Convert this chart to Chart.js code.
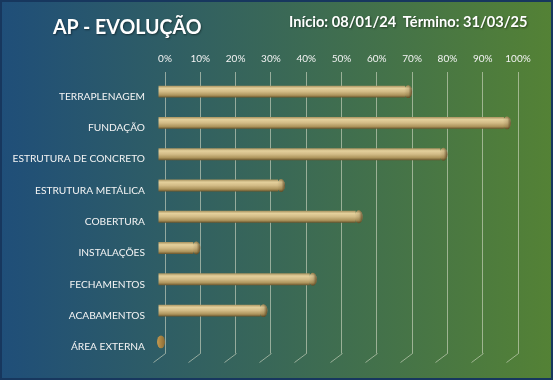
<!DOCTYPE html>
<html><head><meta charset="utf-8">
<script src="https://cdn.jsdelivr.net/npm/chart.js@4.4.1/dist/chart.umd.min.js"></script>
<style>
html,body{margin:0;padding:0;background:#ffffff;}
#wrap{position:relative;width:553px;height:380px;overflow:hidden;background:linear-gradient(90deg,#1f4e79 0%,#548235 100%);}
#c{position:absolute;left:0;top:0;}
#frame{position:absolute;left:0;top:0;width:553px;height:380px;box-sizing:border-box;border:2px solid #17375e;pointer-events:none;}
.t{position:absolute;white-space:pre;font-family:Lato,sans-serif;font-weight:700;color:#ffffff;line-height:1;transform-origin:0 0;text-shadow:1px 1px 2px rgba(0,0,0,0.45);}
</style></head><body>
<div id="wrap">
<canvas id="c" width="553" height="380"></canvas>
<div id="title" class="t"></div>
<div id="sub" class="t"></div>
<div id="frame"></div>
</div>
<script>
const titleText = 'AP - EVOLUÇÃO';
const periodText = 'Início: 08/01/24  Término: 31/03/25';
const categories = ['TERRAPLENAGEM','FUNDAÇÃO','ESTRUTURA DE CONCRETO','ESTRUTURA METÁLICA','COBERTURA','INSTALAÇÕES','FECHAMENTOS','ACABAMENTOS','ÁREA EXTERNA'];
const progress = [70, 98, 80, 34, 56, 10, 43, 29, 0];
const tickLabels = ['0%','10%','20%','30%','40%','50%','60%','70%','80%','90%','100%'];

const FONT = 'Lato, "Open Sans", sans-serif';
const GRID = 'rgba(215,220,200,0.6)';
const TEXT = '#f4f4f4';
const DX = -7, DY = 4;          // 3D depth offset of the bars
const BAR_PCT = 0.38;

function measure(txt, size) {
  const c = document.createElement('canvas').getContext('2d');
  c.font = '700 ' + size + 'px Lato';
  return c.measureText(txt).width;
}
function placeText(el, txt, left, baseline, capH, width) {
  el.textContent = txt;
  const size = capH / 0.7165;
  el.style.fontSize = size + 'px';
  const w = measure(txt, size);
  const base = (size - 1.2 * size) / 2 + 0.987 * size;
  el.style.left = left + 'px';
  el.style.top = (baseline - base) + 'px';
  el.style.transform = 'scaleX(' + (width / w) + ')';
}
placeText(document.getElementById('title'), titleText, 52.5, 35.5, 15.5, 149);
placeText(document.getElementById('sub'), periodText, 288.5, 28.3, 10.4, 239);

function bodyGradient(ctx, yc, h) {
  const g = ctx.createLinearGradient(0, yc - h, 0, yc + h);
  g.addColorStop(0, '#a8925e');
  g.addColorStop(0.22, '#e4d09c');
  g.addColorStop(0.5, '#d2bb86');
  g.addColorStop(0.8, '#ad945c');
  g.addColorStop(1, '#6a552c');
  return g;
}

const cylinderPlugin = {
  id: 'cylinder',
  beforeDatasetsDraw(chart) {
    const {ctx, chartArea, scales: {x}} = chart;
    ctx.save();
    ctx.strokeStyle = GRID; ctx.lineWidth = 1;
    x.ticks.forEach(t => {
      const px = Math.round(x.getPixelForValue(t.value)) + 0.5;
      ctx.beginPath();
      ctx.moveTo(px, chartArea.bottom);
      ctx.lineTo(px - 12, chartArea.bottom + 9);
      ctx.stroke();
    });
    ctx.restore();
    ctx.save();
    ctx.translate(DX, DY);
  },
  afterDatasetsDraw(chart) {
    const ctx = chart.ctx;
    ctx.restore();
    const meta = chart.getDatasetMeta(0);
    meta.data.forEach((bar, i) => {
      const p = bar.getProps(['x', 'y', 'height'], true);
      const rx = 4, cx = p.x - rx, cy = p.y + DY, ry = p.height / 2 + 0.5;
      ctx.save();
      ctx.beginPath();
      ctx.ellipse(cx, cy, rx, ry, 0, 0, Math.PI * 2);
      if (progress[i] > 0) {
        ctx.fillStyle = bodyGradient(ctx, cy, p.height / 2);
        ctx.fill();
        const g = ctx.createLinearGradient(cx - rx, 0, cx + rx, 0);
        g.addColorStop(0, 'rgba(80,60,25,0)');
        g.addColorStop(0.55, 'rgba(80,60,25,0.15)');
        g.addColorStop(1, 'rgba(70,50,20,0.75)');
        ctx.fillStyle = g;
        ctx.fill();
      } else {
        const g = ctx.createLinearGradient(cx - rx, 0, cx + rx, 0);
        g.addColorStop(0, '#c49a50');
        g.addColorStop(1, '#8a6a34');
        ctx.fillStyle = g;
        ctx.fill();
      }
      ctx.restore();
    });
  }
};

new Chart(document.getElementById('c'), {
  type: 'bar',
  data: {
    labels: categories,
    datasets: [{
      data: progress,
      backgroundColor(context) {
        const chart = context.chart;
        if (!chart.chartArea || !chart.scales.y) return '#cdb47e';
        const y = chart.scales.y.getPixelForValue(context.dataIndex);
        const h = (chart.chartArea.bottom - chart.chartArea.top) / categories.length * BAR_PCT / 2;
        return bodyGradient(chart.ctx, y, h);
      },
      borderWidth: 0,
      barPercentage: BAR_PCT,
      categoryPercentage: 1
    }]
  },
  options: {
    indexAxis: 'y',
    responsive: false,
    maintainAspectRatio: false,
    animation: false,
    layout: {padding: {left: 0, top: 0, right: 35, bottom: 26.5}},
    plugins: {legend: {display: false}, tooltip: {enabled: false}, title: {display: false}},
    scales: {
      x: {
        position: 'top', min: 0, max: 100,
        afterFit(s) { s.height = 72; },
        ticks: {stepSize: 10, color: TEXT, padding: 7, font: {family: FONT, size: 10},
                callback: (v, i) => tickLabels[i]},
        grid: {color: GRID, lineWidth: 1, drawTicks: false},
        border: {display: false}
      },
      y: {
        afterFit(s) { s.width = 165; },
        ticks: {color: TEXT, padding: 20, labelOffset: 9, font: {family: FONT, size: 10.2}},
        grid: {display: false, drawTicks: false},
        border: {display: false}
      }
    }
  },
  plugins: [cylinderPlugin]
});
</script>
</body></html>
